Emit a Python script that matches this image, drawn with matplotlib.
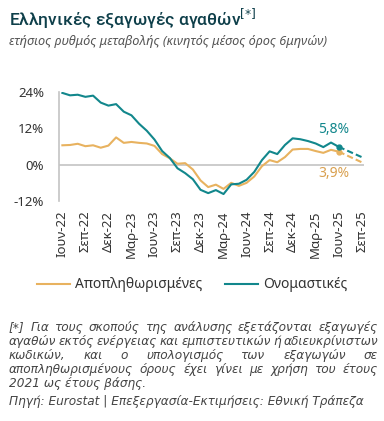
import numpy as np
import matplotlib
matplotlib.use("Agg")
import matplotlib.pyplot as plt

plt.rcParams['font.family'] = ['Noto Sans', 'DejaVu Sans']

# monthly data, Jun-22 .. Jun-25 (annual % change, 6m moving average)
nominal = [23.7, 22.9, 23.1, 22.4, 22.8, 20.5, 19.5, 20.0, 17.5, 16.3, 13.5, 11.2,
           8.3, 4.5, 2.2, -1.2, -2.8, -4.8, -8.3, -9.4, -8.4, -9.7, -6.5, -6.3,
           -5.0, -2.4, 1.5, 4.4, 3.5, 6.5, 8.7, 8.4, 7.8, 7.0, 5.8, 7.3, 5.9]
deflated = [6.4, 6.5, 6.9, 6.1, 6.4, 5.6, 6.3, 9.0, 7.2, 7.5, 7.2, 7.0,
            6.2, 3.5, 2.1, 0.3, 0.5, -1.6, -5.2, -7.4, -6.6, -8.0, -6.0, -7.0,
            -6.0, -3.9, -0.5, 1.5, 0.8, 2.5, 5.0, 5.2, 5.2, 4.5, 3.9, 4.9, 4.3]
# estimates Jun-25 -> Sep-25
nominal_proj = [5.9, 2.5]
deflated_proj = [4.3, 0.8]
proj_months = [36, 39]

tick_labels = ['Ιουν-22', 'Σεπ-22', 'Δεκ-22', 'Μαρ-23', 'Ιουν-23', 'Σεπ-23', 'Δεκ-23',
               'Μαρ-24', 'Ιουν-24', 'Σεπ-24', 'Δεκ-24', 'Μαρ-25', 'Ιουν-25', 'Σεπ-25']
nominal_label = '5,8%'
deflated_label = '3,9%'

teal = '#12878c'
orange = '#e8b25f'
dark = '#333333'
grey_line = '#c4c4c4'

W, H = 384, 421
fig = plt.figure(figsize=(W / 100, H / 100), dpi=100)
ax = fig.add_axes([59.3 / W, 1 - 201 / H, (364 - 59.3) / W, (201 - 92) / H])

months = np.arange(len(nominal))
ax.plot(months, deflated, color=orange, lw=1.5, label='Αποπληθωρισμένες')
ax.plot(months, nominal, color=teal, lw=1.5, label='Ονομαστικές')
ax.plot(proj_months, deflated_proj, color=orange, lw=1.5, ls=(0, (3, 1.5)))
ax.plot(proj_months, nominal_proj, color=teal, lw=1.5, ls=(0, (3, 1.5)))
ax.plot(months[-1], deflated[-1], 'o', color=orange, ms=3.5)
ax.plot(months[-1], nominal[-1], 'o', color=teal, ms=3.5)

ax.text(months[-1] - 0.6, nominal[-1] + 3.2, nominal_label, color=teal,
        fontsize=10, ha='center', va='bottom')
ax.text(months[-1] - 0.6, deflated[-1] - 4.6, deflated_label, color='#d9a04f',
        fontsize=10, ha='center', va='top')

ax.axhline(0, color=grey_line, lw=1.2, zorder=0)
ax.set_xlim(-0.4, 39.3)
ax.set_ylim(-12, 24)
ax.set_yticks([-12, 0, 12, 24])
ax.set_yticklabels(['-12%', '0%', '12%', '24%'])
ax.set_xticks(np.arange(0, 40, 3))
ax.set_xticklabels(tick_labels, rotation=90)
ax.tick_params(axis='y', length=0, pad=11, labelsize=9.5, labelcolor=dark)
ax.tick_params(axis='x', length=0, pad=7, labelsize=9.5, labelcolor=dark)
for s in ['top', 'right', 'bottom']:
    ax.spines[s].set_visible(False)
ax.spines['left'].set_color(grey_line)
ax.spines['left'].set_linewidth(1.2)

fig.legend(loc='center', bbox_to_anchor=(0.5, 1 - 285 / H), ncol=2, frameon=False,
           fontsize=10, handlelength=2.4, handletextpad=0.35, columnspacing=1.6,
           labelcolor=dark)

# title and subtitle
fig.text(9 / W, 1 - 18 / H, 'Ελληνικές εξαγωγές αγαθών$^{[*]}$', fontsize=12.5,
         color='#0e3f4a', fontweight='medium', va='center',
         family=['Roboto', 'DejaVu Sans'])
fig.text(9 / W, 1 - 41 / H, 'ετήσιος ρυθμός μεταβολής (κινητός μέσος όρος 6μηνών)',
         fontsize=9.2, style='italic', color='#555555', va='center')

# justified footnote
note_lines = ['[*] Για τους σκοπούς της ανάλυσης εξετάζονται εξαγωγές',
              'αγαθών εκτός ενέργειας και εμπιστευτικών ή αδιευκρίνιστων',
              'κωδικών, και ο υπολογισμός των εξαγωγών σε',
              'αποπληθωρισμένους όρους έχει γίνει με χρήση του έτους']
last_line = '2021 ως έτους βάσης.'
source = 'Πηγή: Eurostat | Επεξεργασία-Εκτιμήσεις: Εθνική Τράπεζα'
note_kw = dict(fontsize=8.7, style='italic', color='#444444', va='center',
               family=['DejaVu Sans'])

renderer = fig.canvas.get_renderer()
x0, x1 = 9, 378
for i, line in enumerate(note_lines):
    y = 1 - (327.5 + i * 13.9) / H
    words = line.split()
    widths = []
    for w in words:
        t = fig.text(0, 0, w, **note_kw)
        widths.append(t.get_window_extent(renderer).width)
        t.remove()
    gap = max((x1 - x0 - sum(widths)) / (len(words) - 1), 2)
    x = x0
    for w, wd in zip(words, widths):
        fig.text(x / W, y, w, **note_kw)
        x += wd + gap
fig.text(x0 / W, 1 - (327.5 + 4 * 13.9) / H, last_line, **note_kw)
fig.text(x0 / W, 1 - 401 / H, source, **note_kw)

fig.savefig('out.png', dpi=100)
